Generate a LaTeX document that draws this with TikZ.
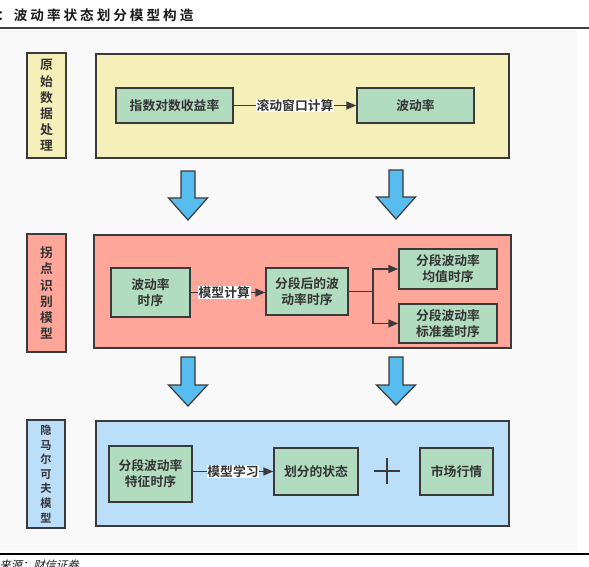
\documentclass[tikz,border=0pt]{standalone}
\usepackage{fontspec}
\setmainfont{Noto Sans CJK SC}
\newfontfamily\cjkb{Noto Sans CJK SC Bold}
\newfontfamily\titlefont[LetterSpace=22]{Noto Sans CJK SC Bold}
\newfontfamily\srcfont[FakeSlant=0.25]{Noto Sans CJK SC}
\usetikzlibrary{arrows.meta}
\definecolor{bggray}{HTML}{F9F9F9}
\definecolor{bord}{HTML}{3A3A3A}
\definecolor{yellowbg}{HTML}{F5F0B9}
\definecolor{redbg}{HTML}{FFA69B}
\definecolor{bluebg}{HTML}{BBDEF9}
\definecolor{greenbox}{HTML}{B2DCC0}
\definecolor{arrowblue}{HTML}{56BDEE}
\definecolor{txt}{HTML}{333333}
\newcommand\pxu[1]{#1*0.75pt}
\newcommand\blkarrow[4]{%
  \draw[barrow] (#1-7,#2) -- (#1+7,#2) -- (#1+7,#3) -- (#1+19.5,#3) -- (#1,#4) -- (#1-19.5,#3) -- (#1-7,#3) -- cycle;}
\tikzset{
  group/.style={draw=bord, line width=1.4pt, inner sep=0pt},
  sidelab/.style={draw=bord, line width=1.4pt, inner sep=0pt, align=center, text=txt,
    font=\cjkb\fontsize{9.6}{12.1}\selectfont},
  stepbox/.style={draw=bord, fill=greenbox, line width=1.1pt, inner sep=0pt, align=center,
    text=txt, font=\cjkb\fontsize{9.6}{12}\selectfont},
  conn/.style={draw=bord, line width=1.1pt, -{Triangle[length=7.5pt,width=6pt]}},
  plainline/.style={draw=bord, line width=1.1pt},
  elab/.style={fill=white, inner sep=0.5pt, text=txt, font=\cjkb\fontsize{9.6}{11}\selectfont},
  barrow/.style={fill=arrowblue, draw=bord, line width=0.9pt, line join=miter},
}
\begin{document}
\begin{tikzpicture}[x=0.75pt,y=-0.75pt]
\useasboundingbox (0,0) rectangle (589,567);
\fill[bggray] (0,30) rectangle (577,551);
\draw[line width=1.5pt, color=black!75] (0,28) -- (589,28);
\draw[line width=1.5pt, color=black] (0,554) -- (589,554);
\node[anchor=west, inner sep=0pt, font=\titlefont\fontsize{10.2}{12}\selectfont, text=black!90] (title) at (-3,15) {：波动率状态划分模型构造};
\node[anchor=west, inner sep=0pt, font=\srcfont\fontsize{8.5}{10}\selectfont, text=black!90] (src) at (-1,565) {来源：财信证券};

% row 1
\node[sidelab, fill=yellowbg, minimum width=\pxu{39}, minimum height=\pxu{105}] (lab1) at (46.5,105.5) {原\\始\\数\\据\\处\\理};
\node[group, fill=yellowbg, minimum width=\pxu{413}, minimum height=\pxu{104}] (big1) at (302.5,106) {};
\node[stepbox, minimum width=\pxu{117}, minimum height=\pxu{35}] (a1) at (174.5,105.5) {指数对数收益率};
\node[stepbox, minimum width=\pxu{117}, minimum height=\pxu{35}] (b1) at (415.5,105.5) {波动率};
\draw[conn] (a1) -- node[elab] {滚动窗口计算} (b1);

\blkarrow{188}{171}{198}{220}
\blkarrow{396}{170}{197}{219}

% row 2
\node[sidelab, fill=redbg, minimum width=\pxu{39}, minimum height=\pxu{118}] (lab2) at (46.5,293) {拐\\点\\识\\别\\模\\型};
\node[group, fill=redbg, minimum width=\pxu{417}, minimum height=\pxu{113}] (big2) at (302.5,291.5) {};
\node[stepbox, minimum width=\pxu{79}, minimum height=\pxu{49}] (a2) at (150.5,292.5) {波动率\\时序};
\node[stepbox, minimum width=\pxu{82}, minimum height=\pxu{47}] (b2) at (307,291.5) {分段后的波\\动率时序};
\node[stepbox, minimum width=\pxu{98}, minimum height=\pxu{40}] (c2) at (448,269) {分段波动率\\均值时序};
\node[stepbox, minimum width=\pxu{98}, minimum height=\pxu{39}] (d2) at (448,323.5) {分段波动率\\标准差时序};
\draw[conn] (a2.east) -- node[elab, pos=0.45] {模型计算} (a2.east -| b2.west);
\coordinate (fork) at (373,291.5);
\draw[plainline] (b2.east) -- (fork);
\draw[conn] (fork) |- (c2.west);
\draw[conn] (fork) |- (d2.west);

\blkarrow{188}{357}{385}{406}
\blkarrow{396}{357}{385}{405}

% row 3
\node[sidelab, fill=bluebg, minimum width=\pxu{38}, minimum height=\pxu{108}, font=\cjkb\fontsize{8.4}{10.9}\selectfont] (lab3) at (46,474) {隐\\马\\尔\\可\\夫\\模\\型};
\node[group, fill=bluebg, minimum width=\pxu{413}, minimum height=\pxu{105}] (big3) at (302.5,473.5) {};
\node[stepbox, minimum width=\pxu{83}, minimum height=\pxu{56}] (a3) at (150.5,474) {分段波动率\\特征时序};
\node[stepbox, minimum width=\pxu{84}, minimum height=\pxu{47}] (b3) at (316,471.5) {划分的状态};
\node[stepbox, minimum width=\pxu{73}, minimum height=\pxu{47}] (c3) at (456.5,471.5) {市场行情};
\draw[conn] (a3.east |- b3) -- node[elab] {模型学习} (b3.west);
\draw[line width=1.1pt, bord] (374,471) -- (400,471) (387,458) -- (387,484);
\end{tikzpicture}
\end{document}
